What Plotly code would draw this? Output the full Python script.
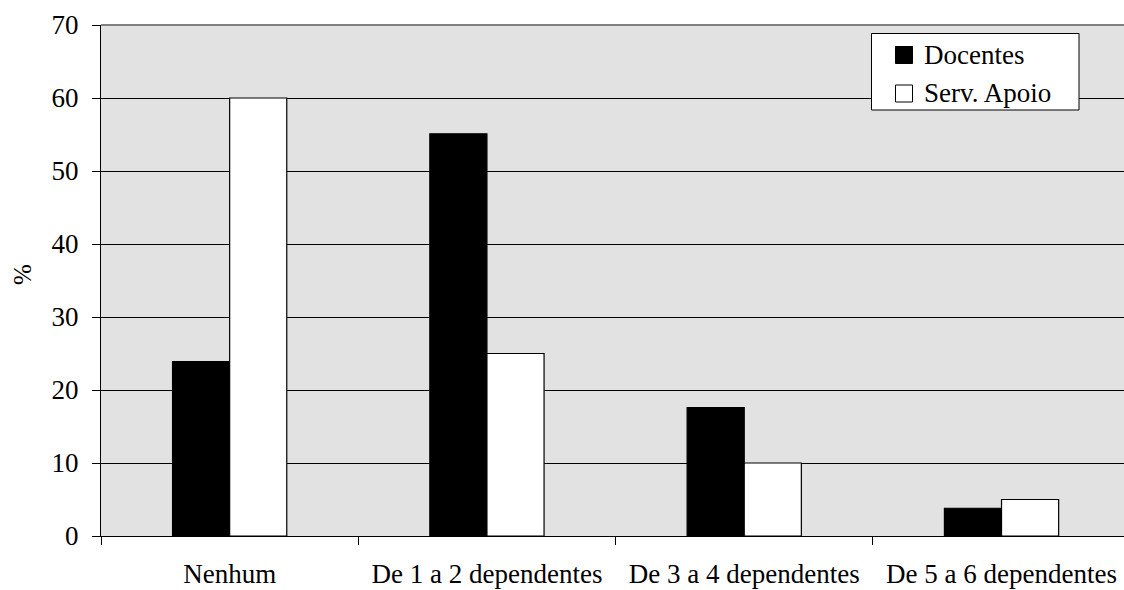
import plotly.graph_objects as go

categories = ["Nenhum", "De 1 a 2 dependentes", "De 3 a 4 dependentes", "De 5 a 6 dependentes"]
docentes = [23.9, 55.1, 17.6, 3.8]
serv_apoio = [60, 25, 10, 5]
y_ticks = [0, 10, 20, 30, 40, 50, 60, 70]
series_names = ["Docentes", "Serv. Apoio"]
series_fill = ["black", "white"]

FONT = "Times New Roman, Liberation Serif, Tinos, DejaVu Serif, Noto Serif, serif"

# plot-area geometry in pixels (used for the hand-drawn legend box)
W, H = 1124, 590
ML, MR, MT, MB = 101, 0, 25, 54
PW, PH = W - ML - MR, H - MT - MB


def px(x):
    return (x - ML) / PW


def py(y):
    return (H - MB - y) / PH


fig = go.Figure()
for name, vals, fill in zip(series_names, [docentes, serv_apoio], series_fill):
    fig.add_trace(go.Bar(name=name, x=categories, y=vals, showlegend=False,
                         marker=dict(color=fill, line=dict(color="black", width=1.2))))

shapes = [
    dict(type="line", xref="paper", yref="paper", x0=0, x1=1, y0=1, y1=1,
         line=dict(color="#808080", width=2)),
    # legend box
    dict(type="rect", xref="paper", yref="paper", x0=px(871.5), x1=px(1079), y0=py(110), y1=py(33.5),
         fillcolor="white", line=dict(color="black", width=1), layer="above"),
]
annotations = [
    dict(text="%", xref="paper", yref="paper", x=px(22), y=py(275), xanchor="center", yanchor="middle",
         showarrow=False, textangle=-90, font=dict(family=FONT, size=25, color="black")),
]
row_y = [55, 93.5]
for name, fill, yc in zip(series_names, series_fill, row_y):
    shapes.append(dict(type="rect", xref="paper", yref="paper", x0=px(895.5), x1=px(912.5),
                       y0=py(yc + 8.5), y1=py(yc - 8.5), fillcolor=fill,
                       line=dict(color="black", width=1), layer="above"))
    annotations.append(dict(text=name, xref="paper", yref="paper", x=px(922), y=py(yc),
                            xanchor="left", yanchor="middle", showarrow=False,
                            font=dict(family=FONT, size=27, color="black")))

fig.update_layout(
    width=W, height=H,
    margin=dict(l=ML, r=MR, t=MT, b=MB),
    paper_bgcolor="white",
    plot_bgcolor="#e2e2e2",
    barmode="group",
    bargap=0.556,
    bargroupgap=0,
    font=dict(family=FONT, size=27, color="black"),
    showlegend=False,
    xaxis=dict(range=[-0.5, 3.476], showline=True, linecolor="black", linewidth=1,
               ticks="outside", tickson="boundaries", ticklen=8, tickcolor="black",
               showgrid=False, ticklabelstandoff=14,
               tickfont=dict(family=FONT, size=27, color="black")),
    yaxis=dict(range=[0, 70], tickvals=y_ticks, showline=True, linecolor="black", linewidth=1,
               ticks="outside", ticklen=8, tickcolor="black",
               showgrid=True, gridcolor="black", gridwidth=1, zeroline=False,
               ticklabelstandoff=8,
               tickfont=dict(family=FONT, size=27, color="black")),
    annotations=annotations,
    shapes=shapes,
)

fig.write_html("out.html", config={"displayModeBar": False},
               post_script="document.body.style.margin='0';document.body.style.overflow='hidden';")
